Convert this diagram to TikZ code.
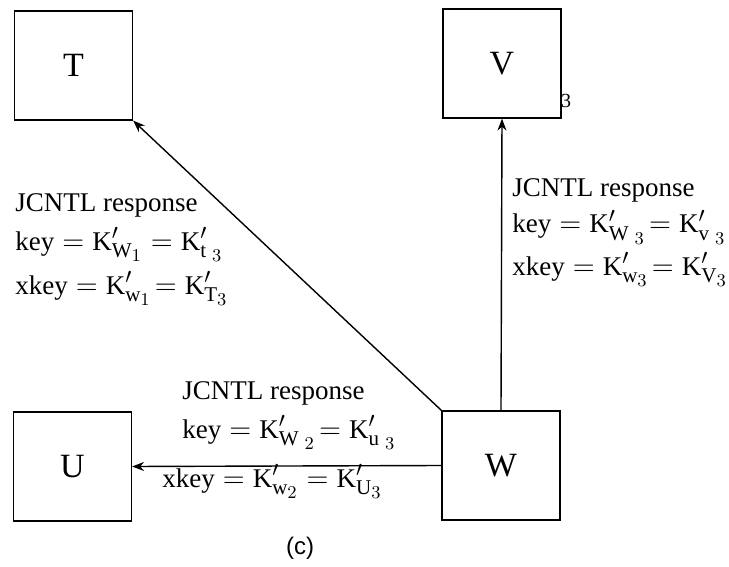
\documentclass[tikz,border=0pt]{standalone}
\usepackage{fontspec}
\setmainfont{Liberation Serif}
\newfontfamily\legendafont{Liberation Sans}
\usetikzlibrary{arrows.meta}
\DeclareMathSizes{13.5}{13.5}{10.5}{9.5}

\begin{document}
\begin{tikzpicture}[
        x=0.5pt, y=-0.5pt,
        >={Stealth[length=6pt, width=4.5pt]},
        caixa/.style={draw, line width=0.6pt, minimum width=59pt, minimum height=54.5pt, inner sep=0pt, font=\fontsize{17}{20}\selectfont},
        seta/.style={->, line width=0.7pt},
        rotulo/.style={anchor=base west, inner sep=0pt, font=\fontsize{13.5}{16}\selectfont}
    ]

        \useasboundingbox (0,0) rectangle (729,567);

        % ==================================================
        % CAIXAS
        % ==================================================

        \node[caixa] (T) at (73.5,65.5) {T};
        \node[caixa] (V) at (502,63.5) {V};
        \node[caixa] (U) at (72.5,466.5) {U};
        \node[caixa] (W) at (501,465.5) {W};

        \node[inner sep=0pt, font=\fontsize{10}{12}\selectfont] (tres) at (566,101) {3};

        % Setas
        \draw[seta] (W.north west) -- (T.south east);
        \draw[seta] (W.north) -- (V.south);
        \draw[seta] (W.west) -- (U.east);

        % ==================================================
        % RESPOSTAS
        % ==================================================

        % Para T
        \node[rotulo] (rT1) at (15,212) {JCNTL response};
        \node[rotulo] (rT2) at (15,250) {$\mathrm{key} = \mathrm{K}'_{\mathrm{W}_1} = \mathrm{K}'_{\mathrm{t}\;{}_3}$};
        \node[rotulo] (rT3) at (15,294) {$\mathrm{xkey} = \mathrm{K}'_{\mathrm{w}_1} \!= \mathrm{K}'_{\mathrm{T}_3}$};

        % Para V
        \node[rotulo] (rV1) at (512,197) {JCNTL response};
        \node[rotulo] (rV2) at (512,233) {$\mathrm{key} = \mathrm{K}'_{\mathrm{W}\;{}_3} \!= \mathrm{K}'_{\mathrm{v}\;{}_3}$};
        \node[rotulo] (rV3) at (512,275) {$\mathrm{xkey} = \mathrm{K}'_{\mathrm{w}_3} \!= \mathrm{K}'_{\mathrm{V}_3}$};

        % Para U
        \node[rotulo] (rU1) at (182,399) {JCNTL response};
        \node[rotulo] (rU2) at (182,438) {$\mathrm{key} = \mathrm{K}'_{\mathrm{W}\;{}_2} \!= \mathrm{K}'_{\mathrm{u}\;{}_3}$};
        \node[rotulo] (rU3) at (162,487) {$\mathrm{xkey} = \mathrm{K}'_{\mathrm{w}_2} = \mathrm{K}'_{\mathrm{U}_3}$};

        \node[font=\legendafont\fontsize{12}{14}\selectfont] (legenda) at (300,548) {(c)};

    \end{tikzpicture}
\end{document}
